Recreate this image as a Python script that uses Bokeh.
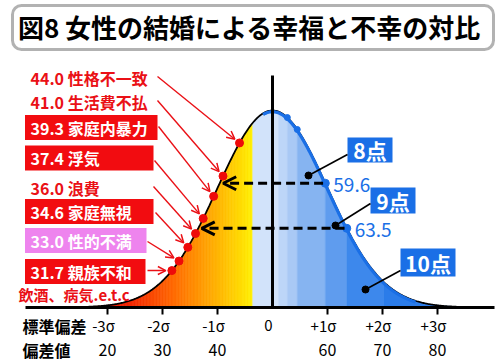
import numpy as np
from bokeh.plotting import figure
from bokeh.models import ColumnDataSource, Arrow, OpenHead, BoxAnnotation
from bokeh.core.properties import value
from bokeh.embed import file_html
from bokeh.resources import INLINE

# ---------------- data ----------------
title_text = "図8 女性の結婚による幸福と不幸の対比"
mean_score = 50.0
sd_score = 10.0
unhappy_values = [44.0, 41.0, 39.3, 37.4, 36.0, 34.6, 33.0, 31.7]
unhappy_reasons = ["性格不一致", "生活費不払", "家庭内暴力", "浮気", "浪費", "家庭無視", "性的不満", "親族不和"]
other_reasons = "飲酒、病気.e.t.c"
happy_thresholds = [59.6, 63.5]
happy_points = ["8点", "9点", "10点"]
band_edges = [46.4, 51.1, 52.7, 54.5, 59.6, 63.5, 70.2, 88.0]
sigma_ticks = [20, 30, 40, 50, 60, 70, 80]
sigma_labels = ["-3σ", "-2σ", "-1σ", "0", "+1σ", "+2σ", "+3σ"]
score_labels = ["20", "30", "40", "", "60", "70", "80"]
curve_lo, curve_hi = 12.0, 88.0

# ---------------- helpers / style ----------------
FONT = value("Noto Sans CJK JP")
RED = "#ea1016"
BOXRED = "#f20c10"
VIOLET = "#ee84ee"
BLUE = "#1a6fe6"

def bell(x):
    x = np.asarray(x, dtype=float)
    return np.exp(-0.5 * ((x - mean_score) / sd_score) ** 2)

# layout helpers (pixel -> data)
def X(px):
    return mean_score + (px - 272.0) / 5.5

def Y(py):
    return (307.0 - py) / 197.0

def to_px(x, y):
    return 272.0 + (x - mean_score) * 5.5, 307.0 - 197.0 * y

W, H = 500, 361
p = figure(width=W, height=H, x_range=(X(0), X(W)), y_range=(Y(H), Y(0)),
           min_border=0, x_axis_location=None, y_axis_location=None,
           toolbar_location=None, output_backend="svg", outline_line_color=None,
           background_fill_color="white", border_fill_color="white")
p.xgrid.visible = False
p.ygrid.visible = False

# ---- left gradient (red -> yellow) ----
grad_stops = [(12, "#d80000"), (24, "#f22400"), (31.5, "#ff6400"), (37, "#ff9800"),
              (40.5, "#ffb800"), (44, "#ffd800"), (46.4, "#fff000")]

def hex2rgb(h):
    return np.array([int(h[i:i + 2], 16) for i in (1, 3, 5)], dtype=float)

def grad_color(d):
    for (a, ca), (b, cb) in zip(grad_stops[:-1], grad_stops[1:]):
        if d <= b:
            t = max(0.0, min(1.0, (d - a) / (b - a)))
            c = hex2rgb(ca) * (1 - t) + hex2rgb(cb) * t
            return "#%02x%02x%02x" % tuple(int(round(v)) for v in c)
    return grad_stops[-1][1]

edges = np.linspace(curve_lo, band_edges[0], 130)
gx, gy, gc = [], [], []
for a, b in zip(edges[:-1], edges[1:]):
    gx.append([a, a, b, b])
    gy.append([0, float(bell(a)), float(bell(b)), 0])
    gc.append(grad_color((a + b) / 2))
p.patches(gx, gy, fill_color=gc, line_color=gc, line_width=0.7)

# ---- blue bands ----
band_colors = ["#d2e3fa", "#bdd6f8", "#a9c9f5", "#86b4f1", "#5f9cee", "#3d88ec", "#2b7ce9"]
bx, by = [], []
for a, b in zip(band_edges[:-1], band_edges[1:]):
    g = np.linspace(a, b, 60)
    bx.append([a] + list(g) + [b])
    by.append([0] + list(bell(g)) + [0])
p.patches(bx, by, fill_color=band_colors, line_color=band_colors, line_width=0.5)

# ---- curve outline ----
xx = np.linspace(curve_lo, curve_hi, 500)
p.line(xx, bell(xx), line_color="black", line_width=1.8)
xb = np.linspace(48.3, 76, 300)
p.line(xb, bell(xb) - 1.2 / 197.0, line_color=BLUE, line_width=3.2)

# ---- vertical mean line ----
p.segment(x0=[mean_score], y0=[0], x1=[mean_score], y1=[Y(75)], line_color="black", line_width=3)

# ---- baseline & ticks ----
p.segment(x0=[X(25)], y0=[0], x1=[X(494)], y1=[0], line_color="black", line_width=3)
tick_x = [t for t in sigma_ticks if t != mean_score]
p.segment(x0=tick_x, y0=[0] * len(tick_x), x1=tick_x, y1=[Y(314)] * len(tick_x),
          line_color="black", line_width=2)

# ---- dashed arrows from happy thresholds to the left side ----
hy = [float(bell(t)) for t in happy_thresholds]
dsrc = ColumnDataSource(dict(
    x0=[t - 0.4 for t in happy_thresholds], y0=hy,
    x1=[2 * mean_score - t + 3.5 / 5.5 for t in happy_thresholds], y1=hy))
p.add_layout(Arrow(end=OpenHead(size=13, line_width=3, line_color="black"),
                   x_start="x0", y_start="y0", x_end="x1", y_end="y1", source=dsrc,
                   line_color="black", line_width=3, line_dash="9 5"))

# blue dots on band boundaries
p.scatter(band_edges[2:4], bell(band_edges[2:4]), size=6, color=BLUE)
p.scatter(happy_thresholds, bell(happy_thresholds), size=8, color=BLUE)
p.text(x=happy_thresholds, y=list(bell(happy_thresholds)),
       text=["%.1f" % t for t in happy_thresholds], x_offset=8, y_offset=2,
       text_font=FONT, text_font_size="19px", text_color=BLUE,
       text_align="left", text_baseline="middle")

# ---- happiness point boxes ----
pt_boxes = [(347, 392, 137, 162), (370, 415, 187, 213), (400, 455, 248, 276)]
pt_lines = [((347, 154), (308, 175)), ((370, 203), (335, 225)), ((400, 270), (365, 289))]
p.quad(left=[X(b[0]) for b in pt_boxes], right=[X(b[1]) for b in pt_boxes],
       top=[Y(b[2]) for b in pt_boxes], bottom=[Y(b[3]) for b in pt_boxes],
       fill_color=BLUE, line_color=None)
p.text(x=[X((b[0] + b[1]) / 2) for b in pt_boxes], y=[Y((b[2] + b[3]) / 2) for b in pt_boxes],
       text=happy_points, text_font=FONT, text_font_style="bold", text_font_size="21px",
       text_color="white", text_align="center", text_baseline="middle")
p.segment(x0=[X(a[0]) for a, b in pt_lines], y0=[Y(a[1]) for a, b in pt_lines],
          x1=[X(b[0]) for a, b in pt_lines], y1=[Y(b[1]) for a, b in pt_lines],
          line_color="black", line_width=1.6)
p.scatter([X(b[0]) for a, b in pt_lines], [Y(b[1]) for a, b in pt_lines],
          size=7, color="black")

# ---- unhappy labels ----
label_cy = [77, 101, 127, 157.5, 187, 211, 240, 271]
label_box = [None, None, (BOXRED, 157), (BOXRED, 153), None, (BOXRED, 153), (VIOLET, 146), (BOXRED, 145)]
arrow_start = [(157, 76), (157, 100), (158, 126), (154, 160), (153, 186), (155, 212), (147, 241), (147, 270)]

ql, qr, qt, qb, qc = [], [], [], [], []
for cy, bx_ in zip(label_cy, label_box):
    if bx_ is not None:
        ql.append(X(24.5)); qr.append(X(bx_[1])); qt.append(Y(cy - 12.5)); qb.append(Y(cy + 12.5)); qc.append(bx_[0])
p.quad(left=ql, right=qr, top=qt, bottom=qb, fill_color=qc, line_color=None)

texts = ["%.1f %s" % (v, r) for v, r in zip(unhappy_values, unhappy_reasons)]
tcol = ["white" if b is not None else RED for b in label_box]
p.text(x=[X(30)] * len(texts), y=[Y(c) for c in label_cy], text=texts,
       text_font=FONT, text_font_style="bold", text_font_size="16px", text_color=tcol,
       text_align="left", text_baseline="middle")

# red arrows to the dots on the curve
ax0, ay0, ax1, ay1 = [], [], [], []
for v, (sx, sy) in zip(unhappy_values, arrow_start):
    dxp, dyp = to_px(v, float(bell(v)))
    vx, vy = dxp - sx, dyp - sy
    n = (vx ** 2 + vy ** 2) ** 0.5
    ex, ey = dxp - vx / n * 6, dyp - vy / n * 6
    ax0.append(X(sx)); ay0.append(Y(sy)); ax1.append(X(ex)); ay1.append(Y(ey))
asrc = ColumnDataSource(dict(x0=ax0, y0=ay0, x1=ax1, y1=ay1))
p.add_layout(Arrow(end=OpenHead(size=8, line_width=1.5, line_color=RED),
                   x_start="x0", y_start="y0", x_end="x1", y_end="y1", source=asrc,
                   line_color=RED, line_width=1.4))
p.scatter(unhappy_values, bell(unhappy_values), size=8, color="#ee0a0a")

p.text(x=[X(18)], y=[Y(294)], text=[other_reasons], text_font=FONT, text_font_style="bold",
       text_font_size="15px", text_color=RED, text_align="left", text_baseline="middle")

# ---- bottom scale labels ----
p.text(x=[X(22)], y=[Y(325)], text=["標準偏差"], text_font=FONT, text_font_style="bold",
       text_font_size="16px", text_color="black", text_align="left", text_baseline="middle")
p.text(x=[X(22)], y=[Y(349)], text=["偏差値"], text_font=FONT, text_font_style="bold",
       text_font_size="16px", text_color="black", text_align="left", text_baseline="middle")
p.text(x=sigma_ticks, y=[Y(325)] * len(sigma_ticks), text=sigma_labels, x_offset=-4,
       text_font=FONT, text_font_size="15px", text_color="black",
       text_align="center", text_baseline="middle")
sx_ = [t for t, s in zip(sigma_ticks, score_labels) if s]
sl_ = [s for s in score_labels if s]
p.text(x=sx_, y=[Y(349)] * len(sx_), text=sl_, text_font=FONT, text_font_size="16px",
       text_color="black", text_align="center", text_baseline="middle")

# ---- title ----
p.add_layout(BoxAnnotation(left=X(12), right=X(493), top=Y(5), bottom=Y(49),
                           fill_alpha=0, line_color="black", line_width=3, border_radius=9))
p.text(x=[X(249)], y=[Y(26)], text=[title_text], text_font=FONT, text_font_style="bold",
       text_font_size="26px", text_color="black", text_align="center", text_baseline="middle")

open("out.html", "w").write(file_html(p, INLINE))
